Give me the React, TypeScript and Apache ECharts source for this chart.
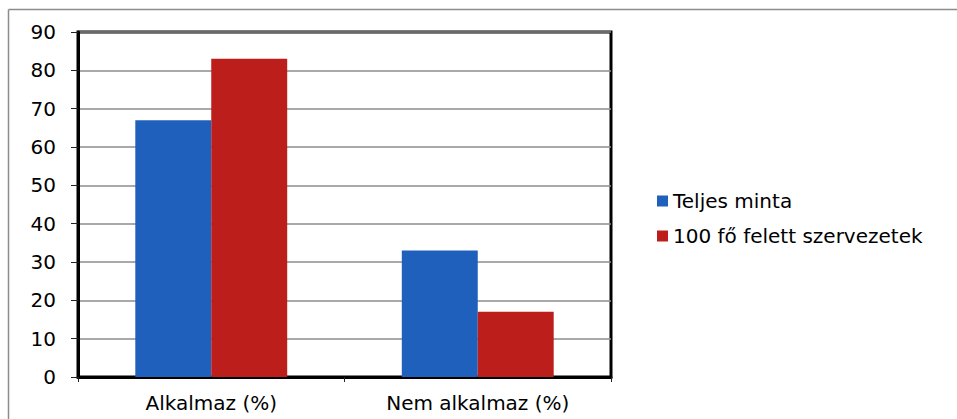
import React, { useEffect, useRef } from "react";
import * as echarts from "echarts";

const categories = ["Alkalmaz (%)", "Nem alkalmaz (%)"];
const seriesNames = ["Teljes minta", "100 fő felett szervezetek"];
const teljesMinta = [67, 33];
const felett100 = [83, 17];
const seriesColors = ["#1f60bc", "#bc1e1c"];

export default function App() {
  const ref = useRef<HTMLDivElement>(null);
  useEffect(() => {
    if (!ref.current) return;
    const chart = echarts.init(ref.current, null, { renderer: "svg" });
    const font = "DejaVu Sans";
    chart.setOption({
      animation: false,
      backgroundColor: "#ffffff",
      textStyle: { fontFamily: font },
      graphic: [
        { type: "line", shape: { x1: 8.5, y1: 9.5, x2: 957, y2: 9.5 }, style: { stroke: "#8c8c8c", lineWidth: 1.5 } },
        { type: "line", shape: { x1: 8.5, y1: 9.5, x2: 8.5, y2: 419 }, style: { stroke: "#8c8c8c", lineWidth: 1.5 } },
      ],
      grid: {
        left: 78,
        top: 32,
        right: 346,
        bottom: 42,
        show: true,
        borderColor: "#000",
        borderWidth: 3,
        backgroundColor: "transparent",
      },
      legend: {
        orient: "vertical",
        left: 652,
        top: 186,
        itemWidth: 11,
        itemHeight: 11,
        itemGap: 15,
        icon: "rect",
        textStyle: { fontFamily: font, fontSize: 20, color: "#000" },
        data: seriesNames,
      },
      xAxis: {
        type: "category",
        data: categories,
        axisLine: { lineStyle: { color: "#000", width: 3 } },
        axisTick: { show: true, length: 5, lineStyle: { color: "#222", width: 1 } },
        axisLabel: { fontFamily: font, fontSize: 20, color: "#000", margin: 16 },
      },
      yAxis: {
        type: "value",
        min: 0,
        max: 90,
        interval: 10,
        axisLine: { show: true, lineStyle: { color: "#000", width: 3 } },
        axisTick: { show: true, length: 7, lineStyle: { color: "#222", width: 1 } },
        axisLabel: { fontFamily: font, fontSize: 20, color: "#000", margin: 22 },
        splitLine: { lineStyle: { color: "#8c8c8c", width: 1.5 } },
      },
      series: [
        {
          name: seriesNames[0],
          type: "bar",
          data: teljesMinta,
          itemStyle: { color: seriesColors[0] },
          barGap: "0%",
          barCategoryGap: "43%",
        },
        {
          name: seriesNames[1],
          type: "bar",
          data: felett100,
          itemStyle: { color: seriesColors[1] },
          barGap: "0%",
          barCategoryGap: "43%",
        },
      ],
    });
    return () => chart.dispose();
  }, []);
  return (
    <div
      ref={ref}
      style={{ position: "fixed", left: 0, top: 0, width: 957, height: 419, background: "#fff" }}
    />
  );
}
